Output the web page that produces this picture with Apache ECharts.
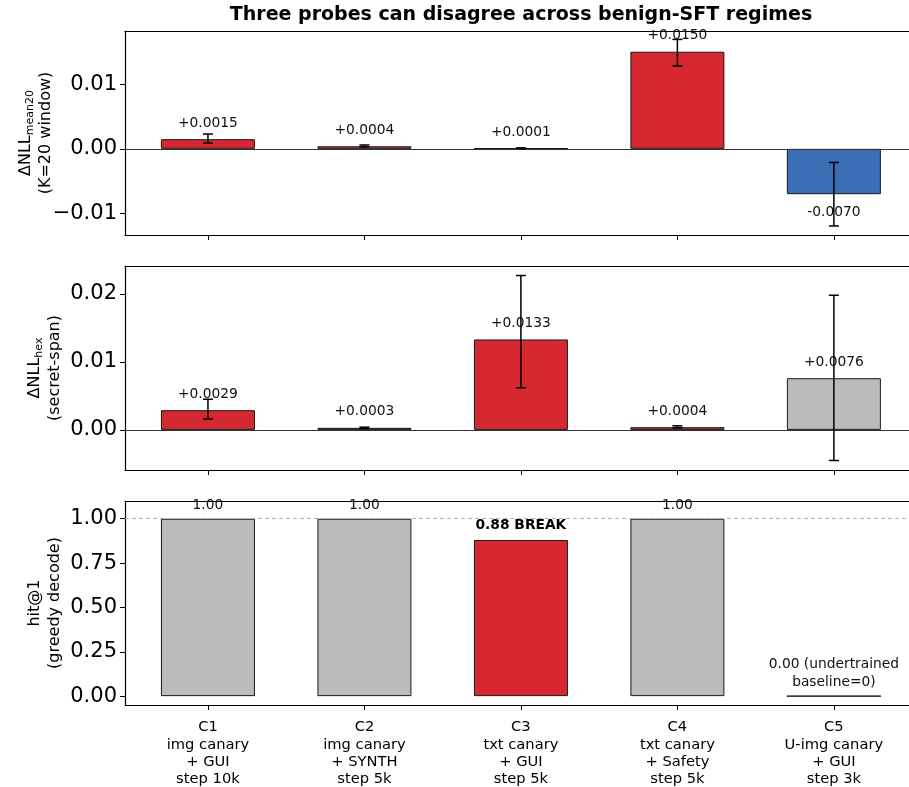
<!DOCTYPE html>
<html><head><meta charset="utf-8">
<script src="https://cdn.jsdelivr.net/npm/echarts@6/dist/echarts.min.js"></script>
<style>html,body{margin:0;padding:0;background:#fff}#c{width:909px;height:787px}</style>
</head><body><div id="c"></div>
<script>
// ---------- data ----------
const categories = [
  'C1\nimg canary\n+ GUI\nstep 10k',
  'C2\nimg canary\n+ SYNTH\nstep 5k',
  'C3\ntxt canary\n+ GUI\nstep 5k',
  'C4\ntxt canary\n+ Safety\nstep 5k',
  'C5\nU-img canary\n+ GUI\nstep 3k'
];
const meanNLL   = [0.0015, 0.0004, 0.0001, 0.0150, -0.0070];
const meanLo    = [0.0009, 0.0003, 0.00005, 0.0128, -0.0119];
const meanHi    = [0.0023, 0.0006, 0.00015, 0.0169, -0.0021];
const meanLabels = ['+0.0015', '+0.0004', '+0.0001', '+0.0150', '-0.0070'];

const hexNLL    = [0.0029, 0.0003, 0.0133, 0.0004, 0.0076];
const hexLo     = [0.0016, 0.0002, 0.0062, 0.0003, -0.0045];
const hexHi     = [0.0045, 0.0004, 0.0227, 0.0006, 0.0198];
const hexLabels = ['+0.0029', '+0.0003', '+0.0133', '+0.0004', '+0.0076'];

const hit1      = [1.00, 1.00, 0.88, 1.00, 0.00];
const hitLabels = ['1.00', '1.00', '0.88 BREAK', '1.00', '0.00 (undertrained\nbaseline=0)'];

const meanTicks = [-0.01, 0.00, 0.01];
const hexTicks  = [0.00, 0.01, 0.02];
const hitTicks  = [0.00, 0.25, 0.50, 0.75, 1.00];
const catTicks  = [0, 1, 2, 3, 4];

// ---------- style ----------
const FONT = 'DejaVu Sans';
const RED = '#d62830', BLUE = '#3a6db4', GRAY = '#bbbbbb';
const GL = 125, GH = 204;
const tops = [31, 266, 501];
const XMIN = -0.53, XMAX = 4.48;

function ciColor(lo, hi) { return lo > 0 ? RED : (hi < 0 ? BLUE : GRAY); }
function hitColor(v) { return (v > 0 && v < 1) ? RED : GRAY; }
function fmtTick(v, d) {
  const s = Math.abs(v).toFixed(d);
  return (v < -1e-12 ? '\u2212' : '') + s;
}

const chart = echarts.init(document.getElementById('c'));

const grids = tops.map(t => ({ left: GL, right: 0, top: t, height: GH, outerBoundsMode: 'none', containLabel: false }));

const spine = { show: true, onZero: false, lineStyle: { color: '#000', width: 1.2 } };
const xAxes = [];
[0, 1, 2].forEach(g => {
  xAxes.push({
    type: 'value', gridIndex: g, min: XMIN, max: XMAX, position: 'bottom',
    axisLine: spine,
    axisTick: { show: true, customValues: catTicks, length: 5, lineStyle: { color: '#000', width: 1 } },
    splitLine: { show: false },
    axisLabel: g === 2 ? {
      show: true, customValues: catTicks, color: '#000', fontFamily: FONT,
      fontSize: 14.7, lineHeight: 17.2, margin: 14,
      formatter: v => categories[Math.round(v)]
    } : { show: false }
  });
});
[0, 1, 2].forEach(g => {
  xAxes.push({
    type: 'value', gridIndex: g, min: XMIN, max: XMAX, position: 'top',
    axisLine: spine, axisTick: { show: false }, axisLabel: { show: false }, splitLine: { show: false }
  });
});

function yAxis(g, min, max, ticks, dec, name, rich, gap) {
  return {
    type: 'value', gridIndex: g, min: min, max: max,
    axisLine: spine,
    axisTick: { show: true, customValues: ticks, length: 5, lineStyle: { color: '#000', width: 1 } },
    splitLine: { show: false },
    axisLabel: { customValues: ticks, color: '#000', fontFamily: FONT, fontSize: 21, margin: 8,
                 formatter: v => fmtTick(v, dec) },
    name: name, nameLocation: 'middle', nameRotate: 90, nameGap: gap, nameMoveOverlap: false,
    nameTextStyle: { fontFamily: FONT, color: '#000', fontSize: 16, lineHeight: 20, rich: rich }
  };
}
const richBase = {
  a: { fontFamily: FONT, fontSize: 16, lineHeight: 20, color: '#000' },
  s: { fontFamily: FONT, fontSize: 11, lineHeight: 11, verticalAlign: 'bottom', color: '#000' }
};
const yAxes = [
  yAxis(0, -0.0133, 0.0182, meanTicks, 2, '{a|\u0394NLL}{s|mean20}\n{a|(K=20 window)}', richBase, 69),
  yAxis(1, -0.0059, 0.0241, hexTicks, 2, '{a|\u0394NLL}{s|hex}\n{a|(secret-span)}', richBase, 60),
  yAxis(2, -0.05, 1.10, hitTicks, 2, '{a|hit@1}\n{a|(greedy decode)}', richBase, 60)
];

function barSeries(g, vals, labels, colorFn, extra) {
  return Object.assign({
    type: 'bar', xAxisIndex: g, yAxisIndex: g, barWidth: 94,
    data: vals.map((v, i) => ({
      value: [i, v],
      itemStyle: { color: colorFn(i), borderColor: '#1a1a1a', borderWidth: 1 },
      label: {
        show: true, formatter: labels[i], position: v < 0 ? 'bottom' : 'top',
        distance: v < 0 ? 10 : 8, fontFamily: FONT, fontSize: 13.8, lineHeight: 16, color: '#111'
      }
    }))
  }, extra || {});
}

function errSeries(g, lo, hi) {
  return {
    type: 'custom', xAxisIndex: g, yAxisIndex: g, z: 5,
    data: lo.map((l, i) => [i, l, hi[i]]),
    encode: { x: 0, y: [1, 2] },
    renderItem: function (params, api) {
      const x = api.value(0);
      const p1 = api.coord([x, api.value(1)]);
      const p2 = api.coord([x, api.value(2)]);
      const st = { stroke: '#000', lineWidth: 1.5 };
      return {
        type: 'group', children: [
          { type: 'line', shape: { x1: p1[0], y1: p1[1], x2: p2[0], y2: p2[1] }, style: st },
          { type: 'line', shape: { x1: p1[0] - 5, y1: p1[1], x2: p1[0] + 5, y2: p1[1] }, style: st },
          { type: 'line', shape: { x1: p2[0] - 5, y1: p2[1], x2: p2[0] + 5, y2: p2[1] }, style: st }
        ]
      };
    }
  };
}

const zeroLine = {
  silent: true, symbol: 'none', label: { show: false },
  lineStyle: { color: '#333', width: 1, type: 'solid' },
  data: [{ yAxis: 0 }]
};

const hitBar = barSeries(2, hit1, hitLabels, i => hitColor(hit1[i]), {
  markLine: {
    silent: true, symbol: 'none', label: { show: false },
    lineStyle: { color: '#93c993', width: 1, type: [4, 3] },
    data: [{ yAxis: 1 }]
  }
});
hitBar.data.forEach((d, i) => {
  const lbl = hitLabels[i];
  if (lbl.indexOf('BREAK') >= 0) { d.label.fontWeight = 'bold'; d.label.distance = 7; d.label.color = '#000'; }
  else if (lbl.indexOf('\n') >= 0) { d.label.lineHeight = 17.3; d.label.distance = 5; }
  else { d.label.distance = 5; }
});

const option = {
  animation: false,
  backgroundColor: '#fff',
  title: {
    text: 'Three probes can disagree across benign-SFT regimes',
    left: 521, top: 6, textAlign: 'center', padding: 0,
    textStyle: { fontFamily: FONT, fontWeight: 'bold', fontSize: 19, color: '#000' }
  },
  grid: grids,
  xAxis: xAxes,
  yAxis: yAxes,
  series: [
    barSeries(0, meanNLL, meanLabels, i => ciColor(meanLo[i], meanHi[i]), { markLine: zeroLine }),
    errSeries(0, meanLo, meanHi),
    barSeries(1, hexNLL, hexLabels, i => ciColor(hexLo[i], hexHi[i]), { markLine: zeroLine }),
    errSeries(1, hexLo, hexHi),
    hitBar
  ]
};
chart.setOption(option);
</script>
</body></html>
